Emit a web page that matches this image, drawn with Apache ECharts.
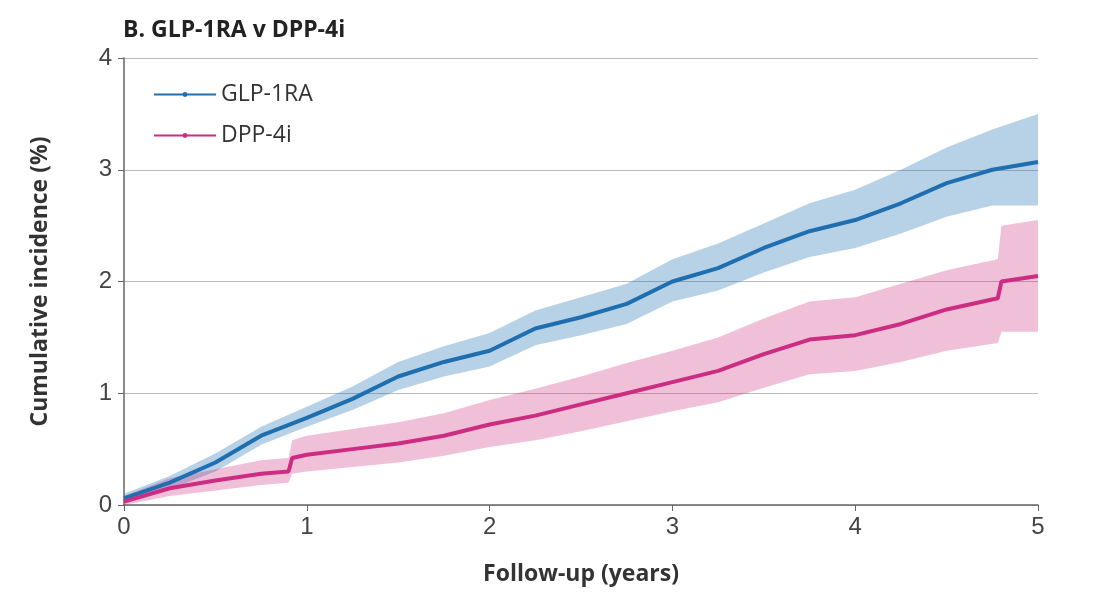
<!DOCTYPE html>
<html><head><meta charset="utf-8">
<script src="https://cdn.jsdelivr.net/npm/echarts@6/dist/echarts.min.js"></script>
<style>html,body{margin:0;background:#fff}#main{width:1111px;height:603px}</style>
</head><body><div id="main"></div>
<script>
// follow-up time points (years)
var glpX = [0,0.25,0.5,0.75,1,1.25,1.5,1.75,2,2.25,2.5,2.75,3,3.25,3.5,3.75,4,4.25,4.5,4.75,5];
var glpY = [0.06,0.2,0.38,0.62,0.78,0.95,1.15,1.28,1.38,1.58,1.68,1.8,2.0,2.12,2.3,2.45,2.55,2.7,2.88,3.0,3.07];
var glpLo = [0.02,0.14,0.3,0.54,0.7,0.85,1.03,1.15,1.24,1.43,1.52,1.62,1.82,1.92,2.08,2.22,2.3,2.43,2.58,2.68,2.68];
var glpHi = [0.1,0.26,0.46,0.7,0.88,1.06,1.28,1.42,1.54,1.74,1.86,1.98,2.2,2.34,2.52,2.7,2.82,3.0,3.2,3.36,3.5];

var dppX = [0,0.25,0.5,0.75,0.9,0.92,1,1.25,1.5,1.75,2,2.25,2.5,2.75,3,3.25,3.5,3.75,4,4.25,4.5,4.78,4.8,5];
var dppY = [0.03,0.15,0.22,0.28,0.3,0.42,0.45,0.5,0.55,0.62,0.72,0.8,0.9,1.0,1.1,1.2,1.35,1.48,1.52,1.62,1.75,1.85,2.0,2.05];
var dppLo = [0.0,0.08,0.13,0.18,0.2,0.28,0.3,0.34,0.38,0.44,0.52,0.58,0.66,0.75,0.84,0.92,1.05,1.17,1.2,1.28,1.38,1.45,1.55,1.55];
var dppHi = [0.08,0.24,0.32,0.4,0.42,0.58,0.62,0.68,0.74,0.82,0.94,1.04,1.15,1.27,1.38,1.5,1.67,1.82,1.86,1.98,2.1,2.2,2.5,2.55];

function pairs(xs, ys){ return xs.map(function(x,i){ return [x, ys[i]]; }); }

var blue = '#1f6fb0', pink = '#cc2d82';

function band(xs, lo, hi, color, op){
  return { type: 'custom', silent: true, data: [0], z: 1,
    renderItem: function(params, api){
      var pts = [];
      for (var i = 0; i < xs.length; i++) pts.push(api.coord([xs[i], hi[i]]));
      for (var j = xs.length - 1; j >= 0; j--) pts.push(api.coord([xs[j], lo[j]]));
      return { type: 'polygon', shape: { points: pts }, style: { fill: color, opacity: op } };
    } };
}

var myChart = echarts.init(document.getElementById('main'));
var option = {
  animation: false,
  title: { text: 'B. GLP-1RA v DPP-4i', left: 118, top: 14,
    textStyle: { fontFamily: 'Open Sans', fontWeight: 'bold', fontSize: 23, color: '#222' } },
  grid: { left: 124, right: 73, top: 58, bottom: 98 },
  legend: {
    data: ['GLP-1RA', 'DPP-4i'], orient: 'vertical', left: 148, top: 78,
    itemWidth: 62, itemHeight: 6, itemGap: 18,
    textStyle: { fontSize: 23, color: '#333', fontFamily: 'Open Sans' }
  },
  xAxis: { type: 'value', min: 0, max: 5, interval: 1,
    name: 'Follow-up (years)', nameLocation: 'middle', nameGap: 58,
    nameTextStyle: { fontSize: 23, fontWeight: 'bold', color: '#333', fontFamily: 'Open Sans' },
    axisLine: { lineStyle: { color: '#666', width: 1.5 } },
    axisTick: { show: true, length: 6, lineStyle: { color: '#666' } },
    axisLabel: { fontSize: 24, color: '#444', margin: 10 },
    splitLine: { show: false } },
  yAxis: { type: 'value', min: 0, max: 4, interval: 1,
    name: 'Cumulative incidence (%)', nameLocation: 'middle', nameGap: 72,
    nameTextStyle: { fontSize: 23, fontWeight: 'bold', color: '#333', fontFamily: 'Open Sans' },
    axisLine: { show: true, lineStyle: { color: '#666', width: 1.5 } },
    axisTick: { show: true, length: 6, lineStyle: { color: '#666' } },
    axisLabel: { fontSize: 24, color: '#444', margin: 12 },
    splitLine: { lineStyle: { color: '#bbb' } } },
  series: [
    band(glpX, glpLo, glpHi, blue, 0.32),
    band(dppX, dppLo, dppHi, pink, 0.3),
    { name: 'GLP-1RA', type: 'line', symbol: 'none', color: blue, z: 3,
      data: pairs(glpX, glpY), lineStyle: { width: 4, color: blue } },
    { name: 'DPP-4i', type: 'line', symbol: 'none', color: pink, z: 3,
      data: pairs(dppX, dppY), lineStyle: { width: 4, color: pink } }
  ]
};
myChart.setOption(option);
</script></body></html>
